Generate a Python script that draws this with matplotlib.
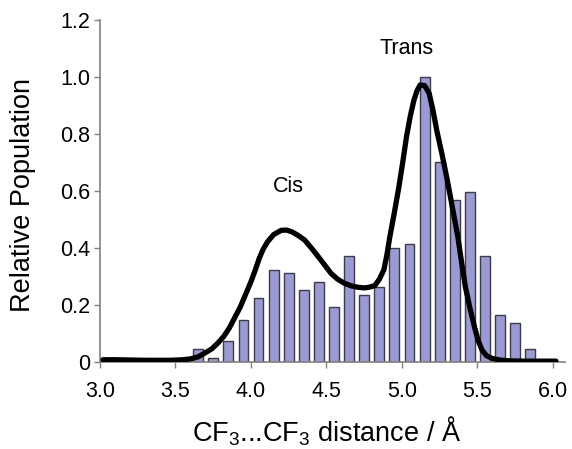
import numpy as np
from matplotlib import pyplot as plt

# histogram (bin centres in Angstrom, relative population)
bin_centres = [3.65, 3.75, 3.85, 3.95, 4.05, 4.15, 4.25, 4.35, 4.45, 4.55,
               4.65, 4.75, 4.85, 4.95, 5.05, 5.15, 5.25, 5.35, 5.45, 5.55,
               5.65, 5.75, 5.85]
population = [0.045, 0.015, 0.074, 0.147, 0.224, 0.323, 0.313, 0.253, 0.282, 0.192,
              0.372, 0.235, 0.264, 0.401, 0.414, 1.0, 0.703, 0.568, 0.598, 0.372,
              0.165, 0.136, 0.046]

# smooth distribution curve
curve_x = [3.02, 3.1, 3.2, 3.3, 3.4, 3.47, 3.55, 3.60, 3.65, 3.69, 3.74, 3.78,
           3.82, 3.855, 3.89, 3.93, 3.965, 4.0, 4.03, 4.055, 4.08, 4.11, 4.15,
           4.20, 4.235, 4.27, 4.31, 4.355, 4.40, 4.445, 4.49, 4.53, 4.575, 4.62,
           4.665, 4.71, 4.75, 4.78, 4.82, 4.85, 4.88, 4.90, 4.92, 4.95, 4.98,
           5.005, 5.03, 5.055, 5.08, 5.10, 5.12, 5.15, 5.18, 5.205, 5.23, 5.265,
           5.30, 5.335, 5.37, 5.395, 5.42, 5.45, 5.48, 5.505, 5.53, 5.56, 5.60,
           5.65, 5.71, 5.8, 5.9, 6.02]
curve_y = [0.008, 0.008, 0.007, 0.006, 0.006, 0.006, 0.008, 0.011, 0.018, 0.03,
           0.046, 0.066, 0.09, 0.118, 0.153, 0.194, 0.238, 0.282, 0.325, 0.364,
           0.395, 0.422, 0.447, 0.462, 0.463, 0.457, 0.445, 0.428, 0.40, 0.37,
           0.339, 0.311, 0.29, 0.276, 0.267, 0.262, 0.26, 0.262, 0.268, 0.29,
           0.323, 0.375, 0.44, 0.525, 0.615, 0.70, 0.79, 0.862, 0.92, 0.952,
           0.972, 0.97, 0.943, 0.885, 0.814, 0.73, 0.639, 0.54, 0.44, 0.35,
           0.264, 0.19, 0.124, 0.075, 0.042, 0.022, 0.012, 0.007, 0.004, 0.003,
           0.003, 0.003]

plt.rcParams['font.family'] = ['Liberation Sans', 'DejaVu Sans']
plt.rcParams['mathtext.fontset'] = 'custom'
plt.rcParams['mathtext.rm'] = 'Liberation Sans'

fig = plt.figure(figsize=(5.72, 4.49), dpi=100)
ax = fig.add_axes([100 / 572, 1 - 362 / 449, 465 / 572, 342 / 449])

ax.bar(bin_centres, population, width=0.065, color='#9a9ad4',
       edgecolor='#3c3c46', linewidth=1.0, zorder=2)
ax.plot(curve_x, curve_y, color='black', linewidth=3.8,
        solid_joinstyle='round', solid_capstyle='round', zorder=3)

ax.set_xlim(3.0, 6.08)
ax.set_ylim(0, 1.2)
ax.set_xticks([3.0, 3.5, 4.0, 4.5, 5.0, 5.5, 6.0])
ax.set_xticklabels(['3.0', '3.5', '4.0', '4.5', '5.0', '5.5', '6.0'])
ax.set_yticks([0, 0.2, 0.4, 0.6, 0.8, 1.0, 1.2])
ax.set_yticklabels(['0', '0.2', '0.4', '0.6', '0.8', '1.0', '1.2'])

for side in ['top', 'right']:
    ax.spines[side].set_visible(False)
for side in ['left', 'bottom']:
    ax.spines[side].set_color('#808080')
    ax.spines[side].set_linewidth(1.2)
ax.tick_params(axis='both', labelsize=15.5, color='#808080', length=4, width=1)
ax.tick_params(axis='y', pad=3)
ax.tick_params(axis='x', pad=10)

ax.text(5.03, 1.10, 'Trans', fontsize=15.5, ha='center', va='center')
ax.text(4.25, 0.615, 'Cis', fontsize=15.5, ha='center', va='center')

fig.text(327 / 572, 1 - 442 / 449, r'CF$_\mathregular{3}$...CF$_\mathregular{3}$ distance / Å',
         fontsize=19.5, ha='center', va='baseline')
fig.text(23 / 572, 1 - 195 / 449, 'Relative Population', fontsize=19.5,
         rotation=90, ha='center', va='center')

fig.savefig('out.png', dpi=100)
